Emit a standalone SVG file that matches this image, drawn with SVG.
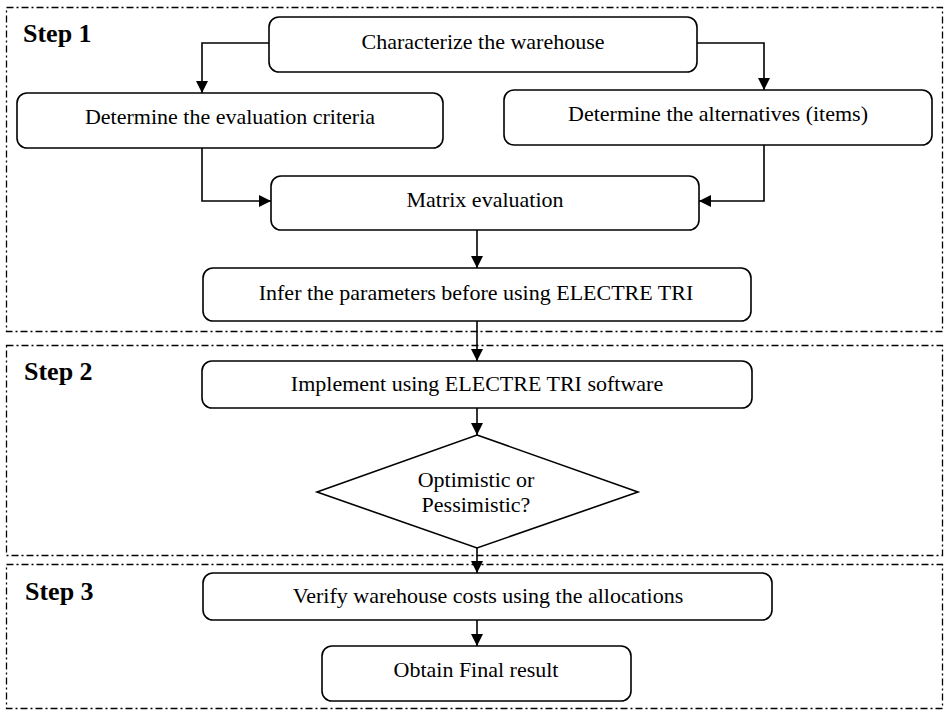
<svg xmlns="http://www.w3.org/2000/svg" width="946" height="712" viewBox="0 0 946 712">
<defs>
<marker id="ah" markerUnits="userSpaceOnUse" markerWidth="12" markerHeight="12" refX="12" refY="6" orient="auto">
<path d="M0,0 L12,6 L0,12 Z" fill="#000"/>
</marker>
<style>
.step{fill:none;stroke:#000;stroke-width:1.3;stroke-dasharray:7 3 2 3}
.box{fill:#fff;stroke:#000;stroke-width:1.6}
.t{font-family:"Liberation Serif","Times New Roman",serif;font-size:22px;fill:#000;text-anchor:middle}
.lbl{font-family:"Liberation Serif","Times New Roman",serif;font-size:26px;font-weight:bold;fill:#000}
.c{fill:none;stroke:#000;stroke-width:1.6;marker-end:url(#ah)}
</style>
</defs>
<rect width="946" height="712" fill="#fff"/>
<g id="steps">
<rect class="step" x="6.5" y="7.5" width="936" height="324"/>
<rect class="step" x="6.5" y="345.5" width="936" height="210"/>
<rect class="step" x="6.5" y="564.5" width="936" height="144"/>
<text class="lbl" x="23" y="42">Step 1</text>
<text class="lbl" x="24" y="380">Step 2</text>
<text class="lbl" x="25" y="600">Step 3</text>
</g>
<g id="connectors">
<path class="c" d="M269,43 H202 V93"/>
<path class="c" d="M697,43 H764 V90"/>
<path class="c" d="M202,148 V201 H271"/>
<path class="c" d="M764,145 V201 H699"/>
<path class="c" d="M477,230 V268"/>
<path class="c" d="M477,321 V361"/>
<path class="c" d="M477,408 V435"/>
<path class="c" d="M477,548 V573"/>
<path class="c" d="M477,620 V646"/>
</g>
<g id="characterize">
<rect class="box" x="269" y="17" width="428" height="55" rx="10"/>
<text class="t" x="483" y="49">Characterize the warehouse</text>
</g>
<g id="criteria">
<rect class="box" x="17" y="93" width="426" height="55" rx="10"/>
<text class="t" x="230" y="124">Determine the evaluation criteria</text>
</g>
<g id="alternatives">
<rect class="box" x="504" y="90" width="428" height="55" rx="10"/>
<text class="t" x="718" y="121">Determine the alternatives (items)</text>
</g>
<g id="matrix">
<rect class="box" x="271" y="176" width="428" height="54" rx="10"/>
<text class="t" x="485" y="207">Matrix evaluation</text>
</g>
<g id="infer">
<rect class="box" x="203" y="268" width="548" height="53" rx="10"/>
<text class="t" x="476" y="300">Infer the parameters before using ELECTRE TRI</text>
</g>
<g id="implement">
<rect class="box" x="202" y="361" width="550" height="47" rx="10"/>
<text class="t" x="477" y="391">Implement using ELECTRE TRI software</text>
</g>
<g id="decision">
<polygon class="box" points="477,435 638,492 477,548 317,492"/>
<text class="t" x="476" y="487">Optimistic or</text>
<text class="t" x="476" y="512">Pessimistic?</text>
</g>
<g id="verify">
<rect class="box" x="203" y="573" width="569" height="47" rx="10"/>
<text class="t" x="488" y="603">Verify warehouse costs using the allocations</text>
</g>
<g id="final">
<rect class="box" x="322" y="646" width="309" height="55" rx="10"/>
<text class="t" x="476" y="677">Obtain Final result</text>
</g>
</svg>
